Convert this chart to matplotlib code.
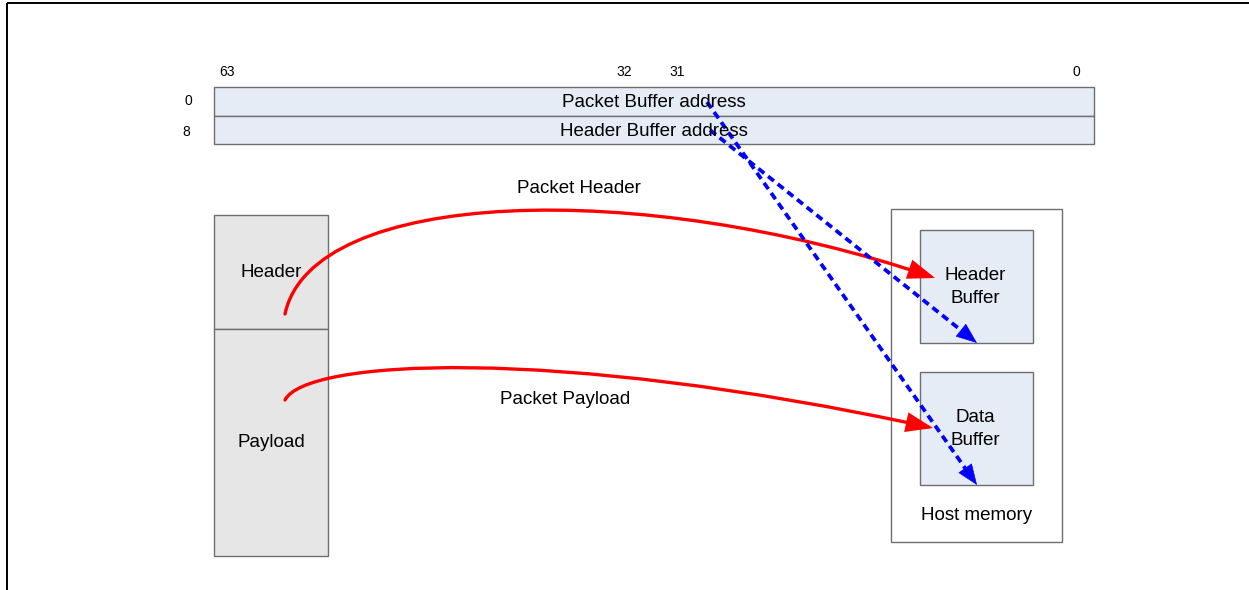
import matplotlib
matplotlib.use("Agg")
import matplotlib.pyplot as plt
from matplotlib.patches import Rectangle, FancyArrowPatch
from matplotlib.path import Path

plt.rcParams['font.family'] = ['Liberation Sans', 'DejaVu Sans']

# ---- content ----
bit_labels = ["63", "32", "31", "0"]
row_offsets = ["0", "8"]
register_fields = ["Packet Buffer address", "Header Buffer address"]
packet_parts = ["Header", "Payload"]
host_buffers = ["Header\nBuffer", "Data\nBuffer"]
host_label = "Host memory"
flow_labels = ["Packet Header", "Packet Payload"]

# ---- layout (pixel coordinates) ----
W, H = 1249, 590
fig = plt.figure(figsize=(W / 100, H / 100), dpi=100)
ax = fig.add_axes([0, 0, 1, 1])
ax.set_xlim(0, W)
ax.set_ylim(H, 0)
ax.axis('off')

EDGE = '#6e6e6e'
BLUEFILL = '#e6ecf6'
GREYFILL = '#e6e6e6'
FS = 13.5
DY = 1.5  # text baseline nudge

# frame
ax.plot([7, 7], [H, 3], color='black', lw=1.4, solid_capstyle='butt')
ax.plot([7, W], [3, 3], color='black', lw=1.4, solid_capstyle='butt')

# register table
tx0, tx1 = 214, 1094
row_y = [87, 115.5, 144]
for i, field in enumerate(register_fields):
    ax.add_patch(Rectangle((tx0, row_y[i]), tx1 - tx0, row_y[i + 1] - row_y[i],
                           facecolor=BLUEFILL, edgecolor=EDGE, lw=1.0))
    ax.text((tx0 + tx1) / 2, (row_y[i] + row_y[i + 1]) / 2 + DY, field,
            ha='center', va='center', fontsize=FS)
ax.text(188, 100 + 1, row_offsets[0], ha='center', va='center', fontsize=10)
ax.text(186, 131 + 1, row_offsets[1], ha='center', va='center', fontsize=10)

bit_x = [227, 624.5, 677.5, 1076]
for lbl, x in zip(bit_labels, bit_x):
    ax.text(x, 72.5, lbl, ha='center', va='center', fontsize=10)

# packet
px0, px1 = 214, 328
part_y = [215, 329, 555.5]
for i, part in enumerate(packet_parts):
    ax.add_patch(Rectangle((px0, part_y[i]), px1 - px0, part_y[i + 1] - part_y[i],
                           facecolor=GREYFILL, edgecolor=EDGE, lw=1.0))
ax.text(271, 271 + DY, packet_parts[0], ha='center', va='center', fontsize=FS)
ax.text(271, 441 + DY, packet_parts[1], ha='center', va='center', fontsize=FS)

# host memory
ax.add_patch(Rectangle((891.5, 208.5), 1062 - 891.5, 541.5 - 208.5,
                       facecolor='white', edgecolor=EDGE, lw=1.0))
buf_y = [(229.5, 343.3), (371.5, 485)]
buf_text_y = [285.5, 427.5]
for (y0, y1), lbl, ty in zip(buf_y, host_buffers, buf_text_y):
    ax.add_patch(Rectangle((920, y0), 1033.5 - 920, y1 - y0,
                           facecolor=BLUEFILL, edgecolor=EDGE, lw=1.0))
    ax.text(975, ty + DY, lbl, ha='center', va='center', fontsize=FS, linespacing=1.4)
ax.text(977, 514 + DY, host_label, ha='center', va='center', fontsize=FS)

# red flow arrows (cubic Bezier)
red_curves = [
    [(285, 314), (312, 188), (640, 178), (935, 278)],
    [(285, 400), (305, 360), (550, 345), (933, 428)],
]
for pts in red_curves:
    path = Path(pts, [Path.MOVETO, Path.CURVE4, Path.CURVE4, Path.CURVE4])
    ax.add_patch(FancyArrowPatch(path=path,
                                 arrowstyle='-|>,head_length=15,head_width=5.5',
                                 color='#ff0000', lw=2.4, shrinkA=0, shrinkB=0,
                                 joinstyle='miter', capstyle='round'))
ax.text(579, 187 + DY, flow_labels[0], ha='center', va='center', fontsize=FS)
ax.text(565, 398 + DY, flow_labels[1], ha='center', va='center', fontsize=FS)

# blue dashed pointer arrows
blue_lines = [
    ((707, 102), (977, 485)),   # Packet Buffer address -> Data Buffer
    ((710, 130), (977, 343)),   # Header Buffer address -> Header Buffer
]
head_len = 20
for (x0, y0), (x1, y1) in blue_lines:
    dx, dy = x1 - x0, y1 - y0
    L = (dx ** 2 + dy ** 2) ** 0.5
    bx, by = x1 - dx / L * head_len, y1 - dy / L * head_len
    ax.plot([x0, bx + dx / L * 2], [y0, by + dy / L * 2], color='#0000ff', lw=2.7,
            linestyle=(0, (2.0, 1.3)), dash_capstyle='butt')
    ax.add_patch(FancyArrowPatch((bx, by), (x1, y1),
                                 arrowstyle='-|>,head_length=14,head_width=5.5',
                                 color='#0000ff', lw=0.5, shrinkA=0, shrinkB=0))

fig.savefig('out.png', dpi=100)
